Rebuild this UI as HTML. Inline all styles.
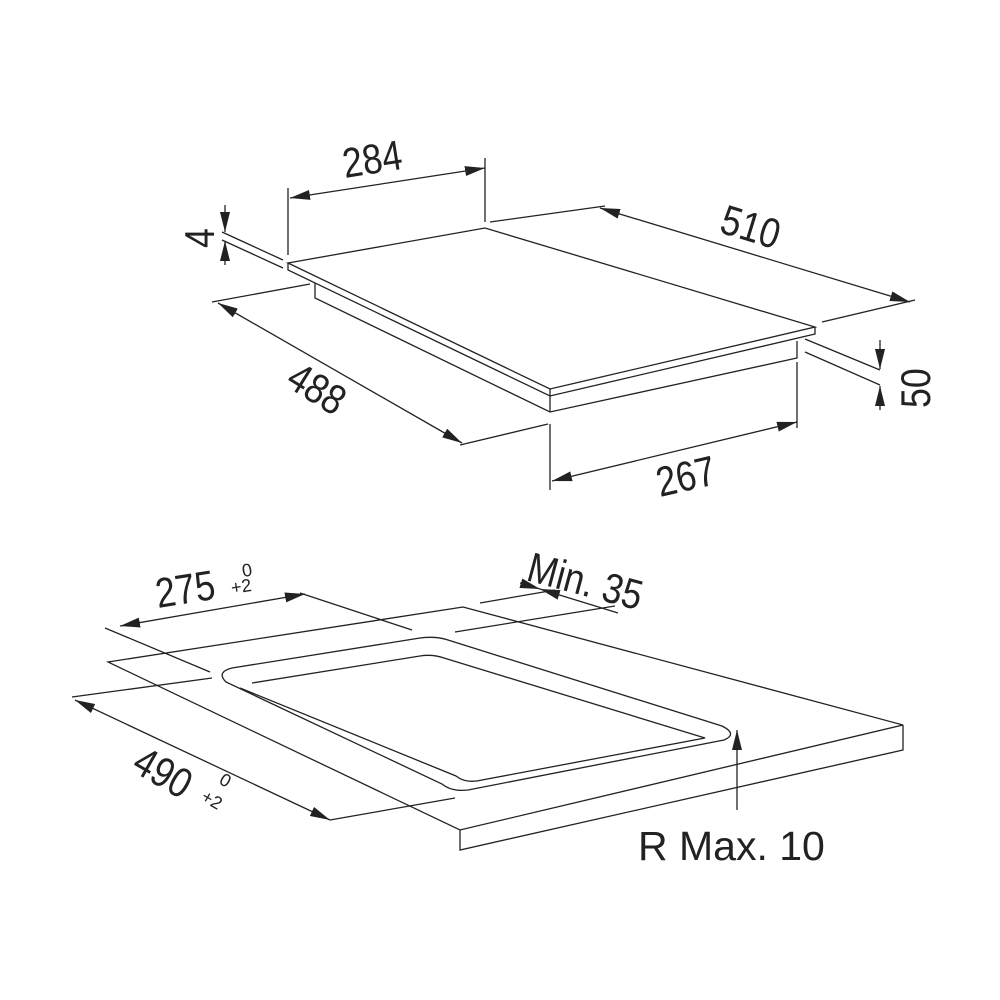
<!DOCTYPE html>
<html><head><style>body{margin:0;background:#fff}svg{display:block}text{font-family:"Liberation Sans",sans-serif;fill:#222}</style></head>
<body>
<svg width="1000" height="1000" viewBox="0 0 1000 1000" xmlns="http://www.w3.org/2000/svg">
<defs>
<marker id="a" viewBox="0 0 20 10" refX="20" refY="5" markerWidth="20" markerHeight="10" markerUnits="userSpaceOnUse" orient="auto"><path d="M0,0 L20,5 L0,10 Z" fill="#222"/></marker>
<marker id="b" viewBox="0 0 20 10" refX="0" refY="5" markerWidth="20" markerHeight="10" markerUnits="userSpaceOnUse" orient="auto"><path d="M20,0 L0,5 L20,10 Z" fill="#222"/></marker>
</defs>
<g fill="none" stroke="#222" stroke-width="1.3">
<path d="M288,263 L485,228 L815,327 L550,389 Z"/>
<path d="M288,263 L288,270 L550,396 L815,334 L815,327"/>
<path d="M550,389 L550,396"/>
<path d="M315,283 L315,298 L550,412 L797,358 L797,341"/>
<path d="M550,396 L550,412"/>
<path d="M288,188 L288,255 M485,158 L485,222"/>
<path d="M290,198 L485,168" marker-start="url(#b)" marker-end="url(#a)"/>
<path d="M490,222 L605,206 M822,322 L915,300"/>
<path d="M600,208 L910,302" marker-start="url(#b)" marker-end="url(#a)"/>
<path d="M222,232 L283,260 M222,240 L283,268"/>
<path d="M225,205 L225,232" marker-end="url(#a)"/>
<path d="M225,265 L225,241" marker-end="url(#a)"/>
<path d="M212,302 L310,284 M460,445 L548,424"/>
<path d="M218,303 L462,443" marker-start="url(#b)" marker-end="url(#a)"/>
<path d="M550,424 L550,490 M797,362 L797,428"/>
<path d="M552,481 L797,422" marker-start="url(#b)" marker-end="url(#a)"/>
<path d="M805,339 L880,370 M805,352 L880,385"/>
<path d="M880,340 L880,369" marker-end="url(#a)"/>
<path d="M880,410 L880,386" marker-end="url(#a)"/>
<path d="M108,662 L463,607 L903,725 L460,830 Z"/>
<path d="M903,725 L903,750 L460,850 L460,830"/>
<path d="M232,668 L420,638 Q436,636 448,640 L722,726 Q738,734 724,740 L468,790 Q452,792 442,784 L226,682 Q216,672 232,668 Z"/>
<path d="M252,683 L420,656 Q432,654 444,658 L705,738 L482,780 Q466,784 456,776 L240,688"/>
<path d="M105,628 L210,672 M300,593 L412,630"/>
<path d="M120,626 L305,594" marker-start="url(#b)" marker-end="url(#a)"/>
<path d="M480,603 L555,590 M455,632 L615,606"/>
<path d="M520,583 L540,589" marker-end="url(#a)"/>
<path d="M540,589 L618,613" marker-start="url(#b)"/>
<path d="M72,697 L212,678 M330,820 L455,798"/>
<path d="M75,700 L330,820" marker-start="url(#b)" marker-end="url(#a)"/>
<path d="M737,810 L737,730" marker-end="url(#a)"/>
</g>
<text font-size="42" transform="translate(345,178) rotate(-9) scale(0.85,1)">284</text>
<text font-size="42" transform="translate(718,232) rotate(17) scale(0.85,1)">510</text>
<text font-size="42" transform="translate(214,248) rotate(-90) scale(0.85,1)">4</text>
<text font-size="42" transform="translate(284,385) rotate(32) scale(0.85,1)">488</text>
<text font-size="42" transform="translate(660,497) rotate(-13) scale(0.85,1)">267</text>
<text font-size="42" transform="translate(930,408) rotate(-90) scale(0.85,1)">50</text>
<text font-size="42" transform="translate(158,608) rotate(-9) scale(0.85,1)">275</text>
<text font-size="18" transform="translate(243,577) rotate(-9)">0</text>
<text font-size="18" transform="translate(232,594) rotate(-9)">+2</text>
<text font-size="42" transform="translate(525,580) rotate(15) scale(0.85,1)">Min. 35</text>
<text font-size="42" transform="translate(130,770) rotate(30) scale(0.85,1)">490</text>
<text font-size="18" transform="translate(218,783) rotate(30)">0</text>
<text font-size="18" transform="translate(200,800) rotate(30)">+2</text>
<text font-size="41" x="638" y="860">R Max. 10</text>
</svg>
</body></html>
